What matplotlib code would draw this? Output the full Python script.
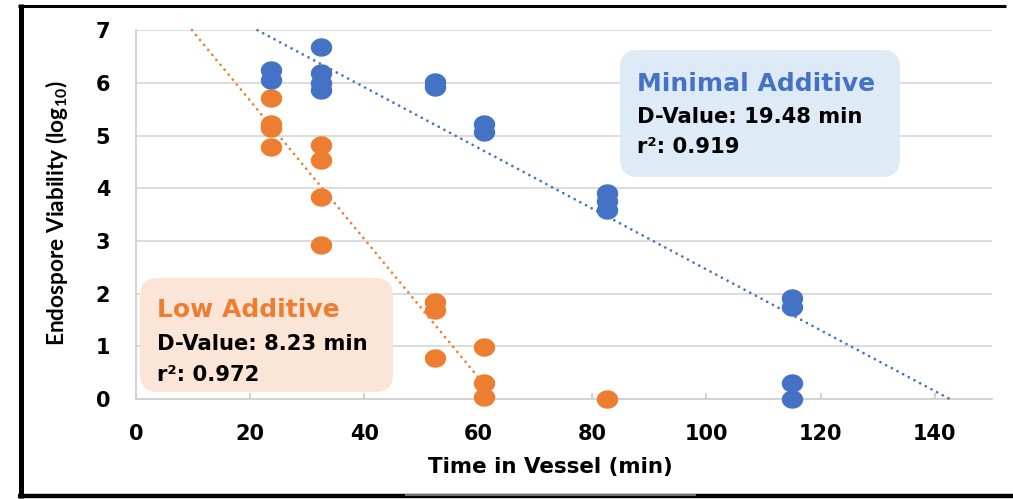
import numpy as np
import matplotlib
matplotlib.use('Agg')
import matplotlib.pyplot as plt
from matplotlib.path import Path
from matplotlib.patches import FancyBboxPatch
from matplotlib.lines import Line2D
from matplotlib.transforms import IdentityTransform

# dados
x_minimal = [23.7, 23.7, 32.4, 32.4, 32.4, 32.4, 52.5, 52.5, 61, 61, 82.5, 82.5, 82.5, 115, 115, 115, 115]
y_minimal = [6.24, 6.05, 6.69, 6.18, 5.99, 5.86, 6.02, 5.93, 5.23, 5.07, 3.91, 3.76, 3.59, 1.91, 1.74, 0.30, 0.0]
x_low = [23.7, 23.7, 23.7, 23.7, 32.4, 32.4, 32.4, 32.4, 52.5, 52.5, 52.5, 61, 61, 61, 82.5]
y_low = [5.71, 5.23, 5.14, 4.79, 4.82, 4.54, 3.84, 2.92, 1.85, 1.69, 0.77, 0.98, 0.31, 0.04, 0.0]

# linhas de tendencia (inclinacao, intercepto, intervalo em x)
trend_minimal = (-0.0577, 8.23, 21.3, 142.6)
trend_low = (-0.1313, 8.29, 9.8, 63.2)

x_ticks = [0, 20, 40, 60, 80, 100, 120, 140]
y_ticks = [0, 1, 2, 3, 4, 5, 6, 7]

blue = '#4472C4'
orange = '#ED7D31'
W, H = 1013, 499

plt.rcParams['mathtext.fontset'] = 'custom'
plt.rcParams['mathtext.rm'] = 'Lato:bold'

fig = plt.figure(figsize=(W / 100, H / 100), dpi=100)
ax = fig.add_axes([136 / W, 1 - 399 / H, (991.7 - 136) / W, (399 - 30.3) / H])
ax.set_xlim(0, 150)
ax.set_ylim(0, 7)

# marcador eliptico
t = np.linspace(0, 2 * np.pi, 60)
ellipse = Path(np.column_stack([np.cos(t), 0.85 * np.sin(t)]), closed=True)

def tendencia(params, color):
    m, b, x0, x1 = params
    xs = np.array([x0, x1])
    ax.plot(xs, m * xs + b, color=color, lw=2.0, linestyle=(0, (0.01, 2.3)),
            dash_capstyle='round', zorder=3, clip_on=False)

tendencia(trend_low, orange)
tendencia(trend_minimal, blue)
ax.plot(x_low, y_low, linestyle='none', marker=ellipse, ms=14.4, color=orange,
        mec=orange, zorder=4, clip_on=False)
ax.plot(x_minimal, y_minimal, linestyle='none', marker=ellipse, ms=14.4, color=blue,
        mec=blue, zorder=4, clip_on=False)

ax.set_xticks(x_ticks)
ax.set_yticks(y_ticks)
ax.grid(axis='y', color='#D9D9D9', lw=1.3)
ax.set_axisbelow(True)
for s in ['top', 'right']:
    ax.spines[s].set_visible(False)
for s in ['left', 'bottom']:
    ax.spines[s].set_color('#D0D0D0')
    ax.spines[s].set_linewidth(1.3)
ax.tick_params(axis='x', direction='in', length=4.5, width=1.2, color='#C8C8C8', pad=18)
ax.tick_params(axis='y', length=0, pad=18.5)
for lab in ax.get_xticklabels() + ax.get_yticklabels():
    lab.set_fontfamily('DejaVu Sans')
    lab.set_fontweight('bold')
    lab.set_fontsize(15)

fig.text(550 / W, 1 - 467 / H, 'Time in Vessel (min)', ha='center', va='center',
         family='DejaVu Sans', weight='bold', fontsize=15.4)
fig.text(56.5 / W, 1 - 213 / H, r'Endospore Viability (log$_{10}$)', ha='center', va='center',
         rotation=90, family='Lato', weight='bold', fontsize=16.3)

# caixas de anotacao
def caixa(x0, y0, x1, y1, cor):
    p = FancyBboxPatch((x0, H - y1), x1 - x0, y1 - y0,
                       boxstyle='round,pad=0,rounding_size=18',
                       transform=IdentityTransform(), fc=cor, ec='none', zorder=5)
    fig.patches.append(p)

caixa(620, 50, 900, 177, '#DEEAF6')
caixa(140, 278, 393, 392, '#FBE5D6')

def texto(x, y, s, cor, tam):
    fig.text(x / W, 1 - y / H, s, ha='left', va='baseline', color=cor,
             family='DejaVu Sans', weight='bold', fontsize=tam, zorder=6)

texto(637, 91, 'Minimal Additive', blue, 18)
texto(637, 123, 'D-Value: 19.48 min', 'black', 15.2)
texto(637, 153, 'r²: 0.919', 'black', 15.2)
texto(157, 317, 'Low Additive', orange, 18)
texto(157, 350, 'D-Value: 8.23 min', 'black', 15.2)
texto(157, 381, 'r²: 0.972', 'black', 15.2)

# moldura preta
def linha(xs, ys, lw, cor='black'):
    fig.lines.append(Line2D([x / W for x in xs], [1 - y / H for y in ys], lw=lw,
                            color=cor, transform=fig.transFigure, solid_capstyle='butt'))

linha([20.5, 20.5], [4, 498], 3.6)
linha([18, 1006], [5.5, 5.5], 2.2)
linha([18, 1013], [496, 496], 3.2)
linha([405, 696], [494.5, 494.5], 1.2, '#888888')

plt.savefig('out.png', dpi=100)
